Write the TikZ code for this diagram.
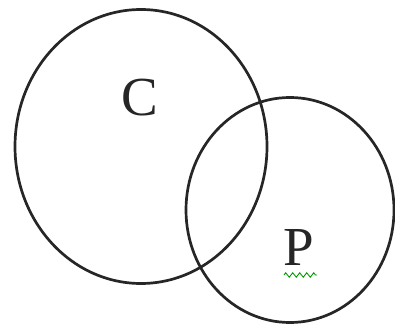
\documentclass[tikz,border=0pt]{standalone}
\usepackage{fontspec}
\setmainfont{Liberation Serif}
\usetikzlibrary{decorations.pathmorphing}
\begin{document}
\begin{tikzpicture}[x=1pt,y=-1pt,
  ring/.style={draw=black!85,line width=2.7pt},
  lbl/.style={font=\fontsize{55}{58}\selectfont,inner sep=0pt,text=black!85}]
\useasboundingbox (0,0) rectangle (395,328);
\draw[ring] (141,146.5) ellipse [x radius=126, y radius=137];
\draw[ring] (290,210) ellipse [x radius=104, y radius=112.5];
\node[lbl] (c) at (140,98) {C};
\node[lbl] (p) at (299,247) {P};
\draw[green!60!black,line width=0.9pt,decorate,decoration={zigzag,amplitude=2.2pt,segment length=7pt}] (284,275) -- (317,275);
\end{tikzpicture}
\end{document}
